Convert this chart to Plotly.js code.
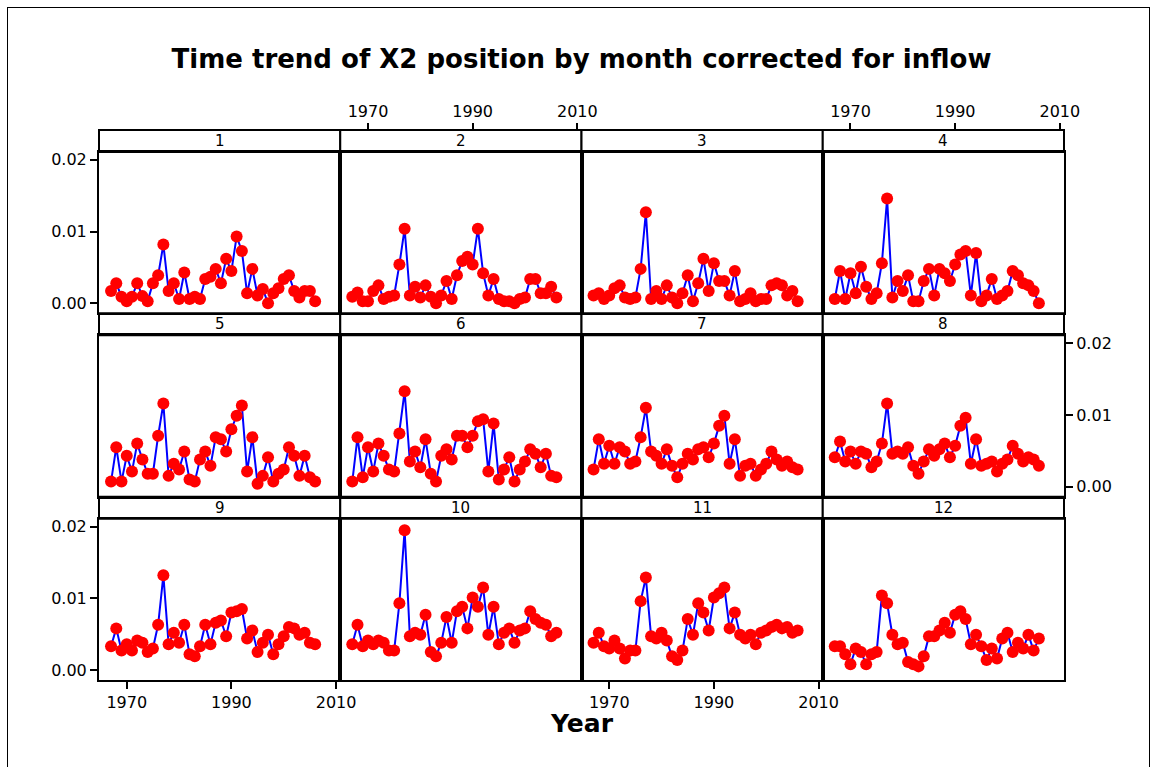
<!DOCTYPE html>
<html><head><meta charset="utf-8">
<script src="https://cdn.plot.ly/plotly-3.0.1.min.js"></script>
<style>
html,body{margin:0;padding:0;background:#fff;}
#chart{width:1151px;height:767px;}
#frame{position:absolute;left:7px;top:7px;width:1141px;height:800px;border:1px solid #000;pointer-events:none;}
</style>
</head><body>
<div id="chart"></div><div id="frame"></div>
<script>
const years = [1967,1968,1969,1970,1971,1972,1973,1974,1975,1976,1977,1978,1979,1980,1981,1982,1983,1984,1985,1986,1987,1988,1989,1990,1991,1992,1993,1994,1995,1996,1997,1998,1999,2000,2001,2002,2003,2004,2005,2006];

const month1 = [0.0017,0.0028,0.0009,0.0003,0.0009,0.0028,0.0010,0.0003,0.0028,0.0039,0.0082,0.0017,0.0028,0.0006,0.0043,0.0006,0.0009,0.0006,0.0034,0.0037,0.0048,0.0028,0.0062,0.0045,0.0093,0.0073,0.0014,0.0048,0.0011,0.0020,0.0000,0.0014,0.0021,0.0034,0.0039,0.0017,0.0008,0.0017,0.0017,0.0003];
const month2 = [0.0009,0.0015,0.0003,0.0003,0.0017,0.0025,0.0006,0.0009,0.0011,0.0054,0.0104,0.0011,0.0023,0.0008,0.0025,0.0009,0.0000,0.0011,0.0031,0.0006,0.0039,0.0059,0.0065,0.0054,0.0104,0.0042,0.0011,0.0034,0.0006,0.0003,0.0003,0.0000,0.0006,0.0008,0.0034,0.0034,0.0014,0.0014,0.0023,0.0008];
const month3 = [0.0011,0.0014,0.0006,0.0011,0.0021,0.0025,0.0008,0.0006,0.0008,0.0048,0.0127,0.0006,0.0017,0.0006,0.0025,0.0008,0.0000,0.0014,0.0039,0.0003,0.0028,0.0062,0.0017,0.0056,0.0031,0.0031,0.0011,0.0045,0.0003,0.0006,0.0014,0.0003,0.0006,0.0006,0.0025,0.0028,0.0025,0.0011,0.0017,0.0003];
const month4 = [0.0006,0.0045,0.0006,0.0042,0.0014,0.0051,0.0023,0.0006,0.0014,0.0056,0.0146,0.0008,0.0031,0.0017,0.0039,0.0003,0.0003,0.0031,0.0048,0.0011,0.0048,0.0042,0.0031,0.0054,0.0068,0.0073,0.0011,0.0070,0.0003,0.0011,0.0034,0.0006,0.0011,0.0017,0.0045,0.0039,0.0028,0.0025,0.0017,0.0000];
const month5 = [0.0007,0.0055,0.0007,0.0043,0.0021,0.0060,0.0038,0.0018,0.0018,0.0071,0.0116,0.0015,0.0032,0.0024,0.0049,0.0010,0.0007,0.0038,0.0049,0.0029,0.0069,0.0066,0.0049,0.0080,0.0099,0.0113,0.0021,0.0069,0.0004,0.0015,0.0041,0.0007,0.0018,0.0024,0.0055,0.0043,0.0015,0.0043,0.0013,0.0007];
const month6 = [0.0007,0.0069,0.0013,0.0055,0.0021,0.0060,0.0043,0.0024,0.0021,0.0074,0.0133,0.0035,0.0049,0.0027,0.0066,0.0018,0.0007,0.0043,0.0052,0.0038,0.0071,0.0071,0.0055,0.0071,0.0091,0.0094,0.0021,0.0088,0.0010,0.0024,0.0041,0.0007,0.0024,0.0035,0.0052,0.0046,0.0027,0.0046,0.0015,0.0013];
const month7 = [0.0024,0.0066,0.0032,0.0057,0.0032,0.0055,0.0049,0.0032,0.0035,0.0069,0.0110,0.0049,0.0043,0.0032,0.0052,0.0029,0.0013,0.0032,0.0046,0.0038,0.0052,0.0055,0.0041,0.0060,0.0085,0.0099,0.0032,0.0066,0.0015,0.0029,0.0032,0.0015,0.0024,0.0032,0.0049,0.0038,0.0029,0.0035,0.0027,0.0024];
const month8 = [0.0041,0.0063,0.0035,0.0049,0.0032,0.0049,0.0046,0.0027,0.0035,0.0060,0.0116,0.0046,0.0049,0.0046,0.0055,0.0029,0.0018,0.0035,0.0052,0.0043,0.0052,0.0060,0.0041,0.0057,0.0085,0.0096,0.0032,0.0066,0.0029,0.0032,0.0035,0.0021,0.0032,0.0038,0.0057,0.0046,0.0035,0.0041,0.0038,0.0029];
const month9 = [0.0033,0.0058,0.0027,0.0036,0.0027,0.0041,0.0038,0.0025,0.0030,0.0063,0.0132,0.0036,0.0052,0.0038,0.0063,0.0022,0.0019,0.0033,0.0063,0.0036,0.0066,0.0069,0.0047,0.0080,0.0082,0.0085,0.0044,0.0055,0.0025,0.0038,0.0049,0.0022,0.0036,0.0047,0.0060,0.0058,0.0049,0.0052,0.0038,0.0036];
const month10 = [0.0036,0.0063,0.0033,0.0041,0.0036,0.0041,0.0038,0.0027,0.0027,0.0093,0.0195,0.0047,0.0052,0.0049,0.0077,0.0025,0.0019,0.0038,0.0074,0.0038,0.0082,0.0088,0.0058,0.0101,0.0088,0.0115,0.0049,0.0088,0.0036,0.0052,0.0058,0.0038,0.0055,0.0058,0.0082,0.0071,0.0066,0.0063,0.0047,0.0052];
const month11 = [0.0038,0.0052,0.0033,0.0030,0.0041,0.0030,0.0016,0.0027,0.0027,0.0096,0.0129,0.0047,0.0044,0.0052,0.0041,0.0019,0.0014,0.0027,0.0071,0.0049,0.0093,0.0080,0.0055,0.0101,0.0107,0.0115,0.0058,0.0080,0.0049,0.0044,0.0049,0.0036,0.0052,0.0055,0.0060,0.0063,0.0058,0.0060,0.0052,0.0055];
const month12 = [0.0033,0.0033,0.0022,0.0008,0.0030,0.0025,0.0008,0.0022,0.0025,0.0104,0.0093,0.0049,0.0036,0.0038,0.0011,0.0008,0.0005,0.0019,0.0047,0.0047,0.0055,0.0066,0.0052,0.0077,0.0082,0.0071,0.0036,0.0049,0.0033,0.0014,0.0030,0.0016,0.0044,0.0052,0.0025,0.0038,0.0030,0.0049,0.0027,0.0044];

const panelLabels = ['1','2','3','4','5','6','7','8','9','10','11','12'];
const xTickVals = [1970, 1990, 2010];
const xTickText = ['1970', '1990', '2010'];
const yTickVals = [0, 0.01, 0.02];
const yTickText = ['0.00', '0.01', '0.02'];

const series = [month1,month2,month3,month4,month5,month6,month7,month8,month9,month10,month11,month12];

const FONT = 'DejaVu Sans, Verdana, sans-serif';
const TICKSIZE = 16;
const L = 99, R = 87, T = 130, B = 87, W = 1151, H = 767;
const plotH = H - T - B;
const stripFrac = 22 / plotH;
const xRange = [1964.7, 2010.8];
const yRange = [-0.0014, 0.0211];

const traces = [];
const layout = {
  width: W, height: H,
  margin: {l: L, r: R, t: T, b: B, pad: 0},
  paper_bgcolor: '#fff', plot_bgcolor: 'rgba(0,0,0,0)',
  showlegend: false,
  font: {family: FONT, size: 14, color: '#000'},
  title: {
    text: '<b>Time trend of X2 position by month corrected for inflow</b>',
    font: {family: FONT, size: 26, color: '#000'},
    x: 0.5, xref: 'paper', xanchor: 'center',
    y: 1 - 59 / H, yref: 'container', yanchor: 'middle'
  },
  shapes: [],
  annotations: []
};

series.forEach((vals, i) => {
  const r = Math.floor(i / 4), c = i % 4;
  const idx = i + 1;
  const xa = 'xaxis' + (idx === 1 ? '' : idx);
  const ya = 'yaxis' + (idx === 1 ? '' : idx);
  const yTop = 1 - r / 3;
  const yStripBottom = yTop - stripFrac;
  const yBottom = 1 - (r + 1) / 3;
  const x0 = c / 4, x1 = (c + 1) / 4;

  const showX = (r === 2 && (c === 0 || c === 2));
  const showYLeft = (c === 0 && r !== 1);
  const showYRight = (c === 3 && r === 1);
  const showY = showYLeft || showYRight;

  layout[xa] = {
    domain: [x0, x1], range: xRange, anchor: 'y' + idx,
    showline: true, mirror: true, linewidth: 2, linecolor: '#000',
    showgrid: false, zeroline: false,
    tickmode: 'array', tickvals: xTickVals, ticktext: xTickText,
    ticks: showX ? 'outside' : '', ticklen: 7, tickwidth: 2, tickcolor: '#000',
    showticklabels: showX, tickfont: {family: FONT, size: TICKSIZE, color: '#000'}
  };
  layout[ya] = {
    domain: [yBottom, yStripBottom], range: yRange, anchor: 'x' + idx,
    side: showYRight ? 'right' : 'left',
    showline: true, mirror: true, linewidth: 2, linecolor: '#000',
    showgrid: false, zeroline: false,
    tickmode: 'array', tickvals: yTickVals, ticktext: yTickText,
    ticks: showY ? 'outside' : '', ticklen: 7, tickwidth: 2, tickcolor: '#000',
    showticklabels: showY, tickfont: {family: FONT, size: TICKSIZE, color: '#000'}
  };

  layout.shapes.push({
    type: 'rect', xref: 'paper', yref: 'paper',
    x0: x0, x1: x1, y0: yStripBottom, y1: yTop,
    line: {color: '#000', width: 2}, fillcolor: '#fff', layer: 'below'
  });
  layout.annotations.push({
    text: panelLabels[i], xref: 'paper', yref: 'paper',
    x: (x0 + x1) / 2, y: (yStripBottom + yTop) / 2,
    xanchor: 'center', yanchor: 'middle', showarrow: false,
    font: {family: FONT, size: 15, color: '#000'}
  });

  traces.push({
    type: 'scatter', mode: 'lines+markers',
    x: years, y: vals,
    xaxis: 'x' + (idx === 1 ? '' : idx), yaxis: 'y' + (idx === 1 ? '' : idx),
    line: {color: '#0000FF', width: 2},
    marker: {color: '#FF0000', size: 12},
    hoverinfo: 'x+y'
  });
});

// Top year axes above columns 2 and 4 (lattice-style alternating axes)
[[13, 0.25, 0.5, 2], [14, 0.75, 1, 4]].forEach(([n, d0, d1, yref]) => {
  layout['xaxis' + n] = {
    domain: [d0, d1], range: xRange, anchor: 'free', position: 1, side: 'top',
    showline: false, showgrid: false, zeroline: false,
    tickmode: 'array', tickvals: xTickVals, ticktext: xTickText,
    ticks: 'outside', ticklen: 7, tickwidth: 2, tickcolor: '#000',
    tickfont: {family: FONT, size: TICKSIZE, color: '#000'}
  };
  traces.push({type: 'scatter', mode: 'markers', x: [], y: [], xaxis: 'x' + n, yaxis: 'y' + yref, showlegend: false, hoverinfo: 'skip'});
});

layout.annotations.push({
  text: '<b>Year</b>', xref: 'paper', yref: 'paper',
  x: 0.5, y: (680 - 723) / plotH, xanchor: 'center', yanchor: 'middle',
  showarrow: false, font: {family: FONT, size: 25, color: '#000'}
});

Plotly.newPlot('chart', traces, layout, {displayModeBar: false, staticPlot: true});
</script>
</body></html>
